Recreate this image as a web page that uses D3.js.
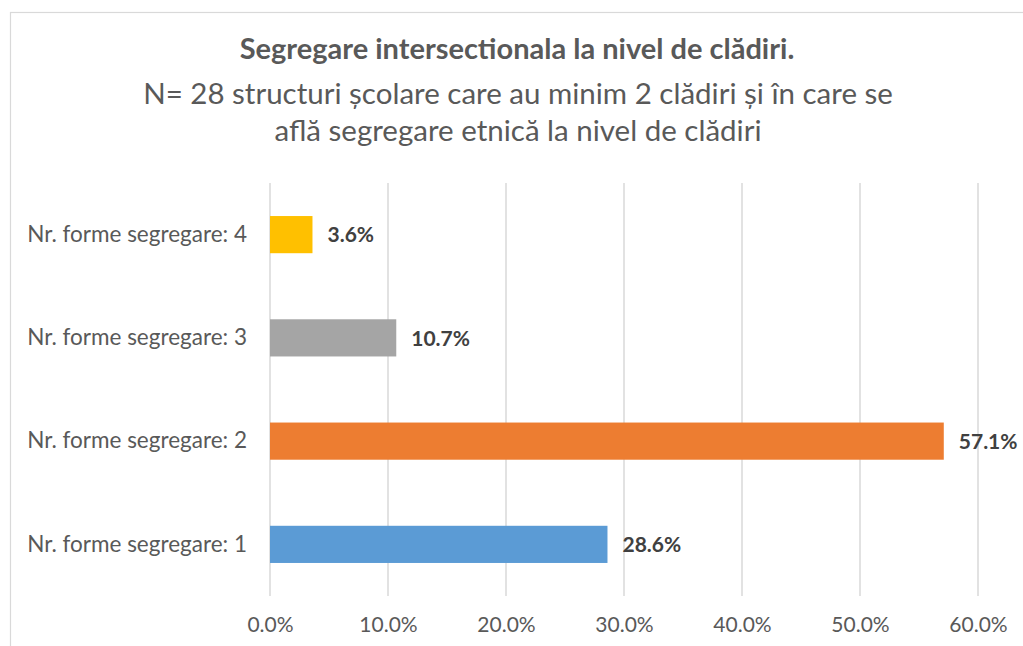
<!DOCTYPE html>
<html>
<head>
<meta charset="utf-8">
<script src="https://cdn.jsdelivr.net/npm/d3@7"></script>
<style>
  body { margin: 0; background: #fff; }
  text { font-family: Lato, "Open Sans", sans-serif; }
</style>
</head>
<body>
<script>
const categories = [
  "Nr. forme segregare: 1",
  "Nr. forme segregare: 2",
  "Nr. forme segregare: 3",
  "Nr. forme segregare: 4",
];
const values = [28.6, 57.1, 10.7, 3.6];
const colors = ["#5b9bd5", "#ed7d31", "#a5a5a5", "#ffc000"];
const ticks = [0, 10, 20, 30, 40, 50, 60];
const titleLines = [
  "N= 28 structuri școlare care au minim 2 clădiri și în care se",
  "află segregare etnică la nivel de clădiri",
];

const w = 1023;
const h = 646;

const svg = d3.select("body").append("svg").attr("width", w).attr("height", h);

// chart border
svg
  .append("rect")
  .attr("x", 10.5)
  .attr("y", 12.5)
  .attr("width", w)
  .attr("height", h)
  .attr("fill", "none")
  .attr("stroke", "#d9d9d9")
  .attr("stroke-width", 1.2);

//title
svg
  .append("text")
  .attr("x", 517)
  .attr("y", 59)
  .attr("text-anchor", "middle")
  .attr("font-size", 29)
  .attr("font-weight", "bold")
  .attr("fill", "#595959")
  .text("Segregare intersectionala la nivel de clădiri.");

svg
  .selectAll(".sub")
  .data(titleLines)
  .enter()
  .append("text")
  .attr("class", "sub")
  .attr("x", 518)
  .attr("y", (d, i) => 104 + i * 37)
  .attr("text-anchor", "middle")
  .attr("font-size", 29.5)
  .attr("fill", "#595959")
  .text((d) => d);

const xScale = d3.scaleLinear().domain([0, 60]).range([270, 978]);

const yScale = d3
  .scaleBand()
  .domain(categories.slice().reverse())
  .range([183, 596])
  .paddingInner(0.64)
  .paddingOuter(0.32);

// gridlines
svg
  .selectAll(".grid")
  .data(ticks)
  .enter()
  .append("line")
  .attr("class", "grid")
  .attr("x1", (d) => xScale(d))
  .attr("x2", (d) => xScale(d))
  .attr("y1", 183)
  .attr("y2", 596)
  .attr("stroke", "#d9d9d9")
  .attr("stroke-width", 1.5);

svg
  .selectAll(".bar")
  .data(values)
  .enter()
  .append("rect")
  .attr("class", "bar")
  .attr("x", xScale(0))
  .attr("y", (d, i) => yScale(categories[i]))
  .attr("width", (d) => xScale(d) - xScale(0))
  .attr("height", yScale.bandwidth())
  .attr("fill", (d, i) => colors[i]);

svg
  .selectAll(".lbl")
  .data(values)
  .enter()
  .append("text")
  .attr("class", "lbl")
  .attr("x", (d) => xScale(d) + 15)
  .attr("y", (d, i) => yScale(categories[i]) + yScale.bandwidth() / 2)
  .attr("dy", "0.37em")
  .attr("font-size", 21)
  .attr("font-weight", "bold")
  .attr("fill", "#404040")
  .text((d) => d.toFixed(1) + "%");

const yAxis = d3.axisLeft(yScale).tickSize(0).tickPadding(23);
const gy = svg.append("g").attr("transform", "translate(270,0)").call(yAxis);
gy.select(".domain").remove();
gy.selectAll("text")
  .attr("font-size", 22.5)
  .attr("fill", "#595959")
  .style("font-family", "Lato, sans-serif");

const xAxis = d3
  .axisBottom(xScale)
  .tickValues(ticks)
  .tickSize(0)
  .tickPadding(23)
  .tickFormat((d) => d.toFixed(1) + "%");
const gx = svg.append("g").attr("transform", "translate(0,594)").call(xAxis);
gx.select(".domain").remove();
gx.selectAll("text")
  .attr("font-size", 21)
  .attr("fill", "#595959")
  .style("font-family", "Lato, sans-serif");
</script>
</body>
</html>
